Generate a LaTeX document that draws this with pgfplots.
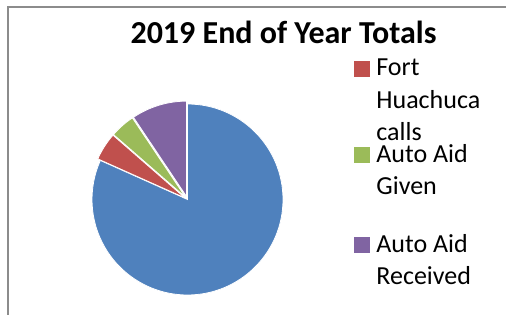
\documentclass[border=0pt]{standalone}
\usepackage{pgfplots}
\pgfplotsset{compat=1.18}
\usepackage{pgfplotstable}
\usepackage{fontspec}
\setmainfont{Carlito}
\definecolor{pieblue}{HTML}{4F81BD}
\definecolor{piered}{HTML}{C0504D}
\definecolor{piegreen}{HTML}{9BBB59}
\definecolor{piepurple}{HTML}{8064A2}
\definecolor{framegray}{HTML}{8C8C8C}
\pgfplotstableread{
share
81.7
4.7
4.2
9.4
}\piedata
\begin{document}
\begin{tikzpicture}
\useasboundingbox (0,0) rectangle (506pt,315pt);
\pgfplotstablegetelem{0}{share}\of\piedata \let\va\pgfplotsretval
\pgfplotstablegetelem{1}{share}\of\piedata \let\vb\pgfplotsretval
\pgfplotstablegetelem{2}{share}\of\piedata \let\vc\pgfplotsretval
\pgfplotstablegetelem{3}{share}\of\piedata \let\vd\pgfplotsretval
\pgfmathsetmacro{\total}{\va+\vb+\vc+\vd}
\pgfmathsetmacro{\aA}{90}
\pgfmathsetmacro{\aB}{\aA-360*(\va/\total)}
\pgfmathsetmacro{\aC}{\aB-360*(\vb/\total)}
\pgfmathsetmacro{\aD}{\aC-360*(\vc/\total)}
\pgfmathsetmacro{\aE}{\aD-360*(\vd/\total)}
\pgfmathsetmacro{\mB}{(\aB+\aC)/2}
\pgfmathsetmacro{\mC}{(\aC+\aD)/2}
\pgfmathsetmacro{\mD}{(\aD+\aE)/2}
\begin{axis}[
  x=1pt, y=1pt, xmin=0, xmax=506, ymin=0, ymax=315,
  hide axis, clip=false,
  legend style={draw=none, fill=none, inner sep=0pt, outer sep=0pt,
    at={(axis cs:354,259)}, anchor=north west,
    row sep=0pt, column sep=7pt,
    nodes={inner sep=0pt, outer sep=0pt, align=left,
      font=\fontsize{26}{32.5}\selectfont},
    cells={anchor=north west}},
]
\fill[pieblue, draw=white, line width=0.8pt] (axis cs:187.5,115.5) -- ++(\aA:95.5pt) arc[start angle=\aA, end angle=\aB, radius=95.5pt] -- cycle;
\fill[piered, draw=white, line width=0.8pt, shift={(\mB:3pt)}] (axis cs:187.5,115.5) -- ++(\aB:95.5pt) arc[start angle=\aB, end angle=\aC, radius=95.5pt] -- cycle;
\fill[piegreen, draw=white, line width=0.8pt, shift={(\mC:3pt)}] (axis cs:187.5,115.5) -- ++(\aC:95.5pt) arc[start angle=\aC, end angle=\aD, radius=95.5pt] -- cycle;
\fill[piepurple, draw=white, line width=0.8pt, shift={(\mD:3pt)}] (axis cs:187.5,115.5) -- ++(\aD:95.5pt) arc[start angle=\aD, end angle=\aE, radius=95.5pt] -- cycle;
\addlegendimage{legend image code/.code={\fill[piered] (0pt,-5pt) rectangle (15pt,-20pt);}}
\addlegendentry{\rule{0pt}{20pt}Fort\\Huachuca\\calls}
\addlegendimage{legend image code/.code={\fill[piegreen] (0pt,-5pt) rectangle (15pt,-20pt);}}
\addlegendentry{\rule{0pt}{20pt}Auto Aid\\Given\\[3.5pt]\mbox{}}
\addlegendimage{legend image code/.code={\fill[piepurple] (0pt,-5pt) rectangle (15pt,-20pt);}}
\addlegendentry{\rule{0pt}{20pt}Auto Aid\\Received}
\node[anchor=base, font=\fontsize{32}{38}\selectfont\bfseries, inner sep=0pt] at (axis cs:283.5,271) {2019 End of Year Totals};
\draw[framegray, line width=1.5pt] (axis cs:8,0) -- (axis cs:8,308) -- (axis cs:506,308);
\end{axis}
\end{tikzpicture}
\end{document}
